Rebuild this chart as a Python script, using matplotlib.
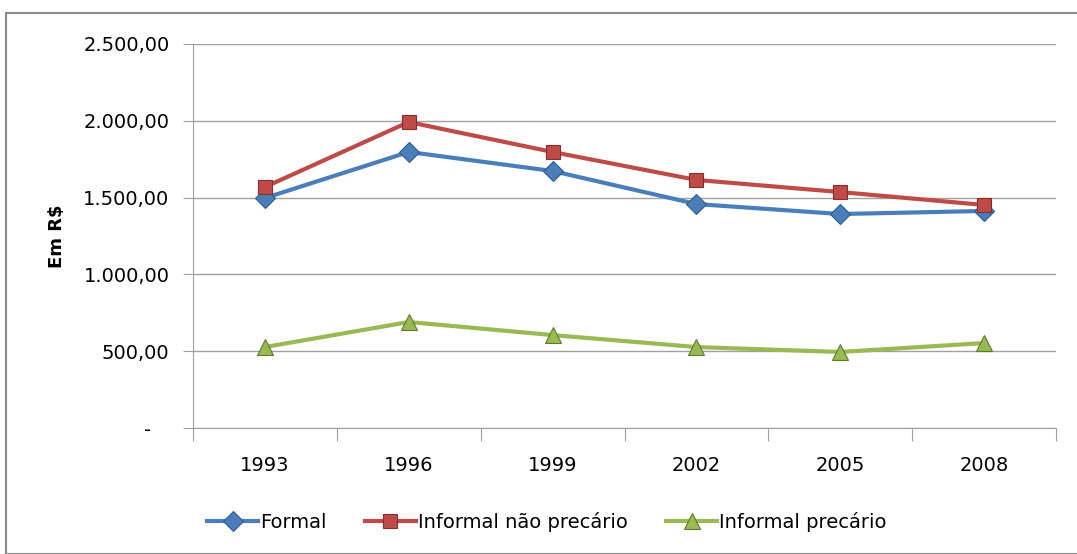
import numpy as np
import matplotlib.pyplot as plt
from matplotlib.patches import Rectangle
from matplotlib.ticker import FuncFormatter

plt.rcParams['font.family'] = ['DejaVu Sans']

years = ['1993', '1996', '1999', '2002', '2005', '2008']
formal = [1497, 1797, 1673, 1458, 1393, 1413]
informal_nao_precario = [1569, 1992, 1797, 1615, 1536, 1452]
informal_precario = [527, 690, 605, 527, 495, 553]

series = [
    ('Formal', formal, '#4a7ebb', '#2e5a8e', 'D', 10),
    ('Informal não precário', informal_nao_precario, '#be4b48', '#8c2b29', 's', 10),
    ('Informal precário', informal_precario, '#98b954', '#5f7a2a', '^', 12),
]


def br_fmt(v, pos):
    # estilo Excel: zero vira traço
    if v == 0:
        return '-   '
    s = '{:,.2f}'.format(v)
    return s.replace(',', 'X').replace('.', ',').replace('X', '.')


fig = plt.figure(figsize=(10.77, 5.54), dpi=100)
fig.patches.append(Rectangle((6 / 1077, 0), 1.0, 1 - 13 / 554, transform=fig.transFigure,
                             fill=False, edgecolor='#8a8a8a', linewidth=1.5))
ax = fig.add_axes([193 / 1077, 126 / 554, 863 / 1077, 384 / 554])

x = np.arange(len(years)) + 0.5
for name, vals, col, edge, mk, ms in series:
    ax.plot(x, vals, color=col, linewidth=3.0, marker=mk, markersize=ms,
            markerfacecolor=col, markeredgecolor=edge, markeredgewidth=0.8,
            label=name, zorder=3)

ax.set_xlim(0, len(years))
ax.set_ylim(0, 2500)
ax.set_yticks(np.arange(0, 2501, 500))
ax.yaxis.set_major_formatter(FuncFormatter(br_fmt))
ax.grid(axis='y', color='#a0a0a0', linewidth=1.0)
ax.set_axisbelow(True)

ax.set_xticks(np.arange(0, len(years) + 1))
ax.set_xticklabels([])
ax.set_xticks(x, minor=True)
ax.set_xticklabels(years, minor=True)
ax.tick_params(axis='x', which='major', length=9, color='#a0a0a0', direction='out')
ax.tick_params(axis='x', which='minor', length=0, pad=20, labelsize=14)
ax.tick_params(axis='y', length=7, color='#a0a0a0', labelsize=14, pad=10)

for s in ['top', 'right']:
    ax.spines[s].set_visible(False)
for s in ['left', 'bottom']:
    ax.spines[s].set_color('#a0a0a0')

ax.set_ylabel('Em R$', fontsize=13, fontweight='bold', labelpad=12)

ax.legend(loc='upper center', bbox_to_anchor=(0.41, -0.172), ncol=3, frameon=False,
          fontsize=14, handlelength=2.6, handletextpad=0.1, columnspacing=2.0)

plt.savefig('out.png', dpi=100)
